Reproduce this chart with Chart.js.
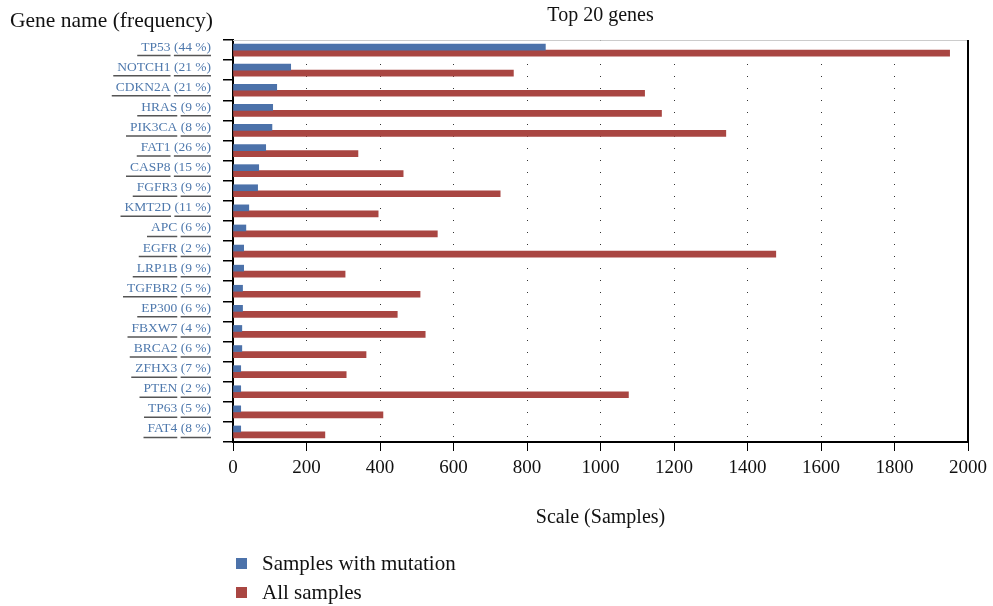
<!DOCTYPE html>
<html>
<head>
<meta charset="utf-8">
<script src="https://cdn.jsdelivr.net/npm/chart.js@4/dist/chart.umd.min.js"></script>
<style>
  html, body { margin: 0; padding: 0; background: #fff; }
  #wrap { position: relative; width: 993px; height: 606px; }
  #yhead { position: absolute; left: 10px; top: 8px; font: 21.5px "Liberation Serif", serif; color: #111; }
  #legend { position: absolute; left: 236px; top: 549px; font: 21px "Liberation Serif", serif; color: #111; }
  #legend div { height: 29px; display: flex; align-items: center; }
  #legend span.box { width: 11px; height: 11px; display: inline-block; margin-right: 15px; }
</style>
</head>
<body>
<div id="wrap">
  <canvas id="myChart" width="993" height="606"></canvas>
  <div id="yhead">Gene name (frequency)</div>
  <div id="legend"></div>
</div>
<script>
// genes and their frequency labels
const genes = ['TP53', 'NOTCH1', 'CDKN2A', 'HRAS', 'PIK3CA', 'FAT1', 'CASP8', 'FGFR3', 'KMT2D', 'APC',
  'EGFR', 'LRP1B', 'TGFBR2', 'EP300', 'FBXW7', 'BRCA2', 'ZFHX3', 'PTEN', 'TP63', 'FAT4'];
const frequencies = ['44 %', '21 %', '21 %', '9 %', '8 %', '26 %', '15 %', '9 %', '11 %', '6 %',
  '2 %', '9 %', '5 %', '6 %', '4 %', '6 %', '7 %', '2 %', '5 %', '8 %'];

// samples with mutation / all samples
const mutatedSamples = [850, 157, 119, 108, 106, 89, 70, 67, 43, 35, 29, 29, 26, 26, 24, 24, 21, 21, 21, 21];
const allSamples = [1950, 763, 1120, 1166, 1341, 340, 463, 727, 395, 556, 1477, 305, 509, 447, 523, 362, 308, 1076, 408, 250];

const xTicks = [0, 200, 400, 600, 800, 1000, 1200, 1400, 1600, 1800, 2000];

const labelFont = '13.5px "Liberation Serif", serif';
const serif = '"Liberation Serif", serif';

//underline each gene name and its frequency, like links
const underlinePlugin = {
  id: 'underline',
  afterDraw(chart) {
    const ctx = chart.ctx;
    const y = chart.scales.y;
    const opts = y.options.ticks;
    ctx.save();
    ctx.font = labelFont;
    ctx.strokeStyle = '#555';
    ctx.lineWidth = 1.5;
    const right = y.right - y.options.grid.tickLength - opts.padding;
    genes.forEach((g, i) => {
      const py = y.getPixelForValue(i) + opts.labelOffset + 8.5;
      const freqText = '(' + frequencies[i] + ')';
      const wFreq = ctx.measureText(freqText).width;
      const wName = ctx.measureText(g + ' ').width;
      const wSpace = ctx.measureText(' ').width;
      ctx.beginPath();
      ctx.moveTo(right - wFreq, py);
      ctx.lineTo(right, py);
      ctx.moveTo(right - wFreq - wName - 4, py);
      ctx.lineTo(right - wFreq - wSpace, py);
      ctx.stroke();
    });
    // box around the plot
    const a = chart.chartArea;
    ctx.strokeStyle = '#ccc';
    ctx.lineWidth = 1;
    ctx.beginPath();
    ctx.moveTo(a.left, a.top + 0.5);
    ctx.lineTo(a.right, a.top + 0.5);
    ctx.stroke();
    ctx.strokeStyle = '#000';
    ctx.lineWidth = 2;
    ctx.beginPath();
    ctx.moveTo(a.right, a.top);
    ctx.lineTo(a.right, a.bottom);
    ctx.stroke();
    ctx.restore();
  }
};

const data = {
  labels: genes.map((g, i) => g + ' (' + frequencies[i] + ')'),
  datasets: [{
    label: 'Samples with mutation',
    backgroundColor: '#4c72aa',
    data: mutatedSamples,
  }, {
    label: 'All samples',
    backgroundColor: '#a94642',
    data: allSamples,
  }]
};

const config = {
  type: 'bar',
  data: data,
  options: {
    indexAxis: 'y',
    responsive: false,
    animation: false,
    layout: { padding: { left: 0, right: 23, top: 0, bottom: 0 } },
    datasets: {
      bar: { barThickness: 6, categoryPercentage: 0.8, barPercentage: 1 }
    },
    scales: {
      x: {
        min: 0,
        max: 2000,
        afterBuildTicks: (scale) => { scale.ticks = xTicks.map(v => ({ value: v })); },
        afterFit: (scale) => { scale.height = 164; },
        border: { color: '#000', width: 2, dash: [1, 11] },
        grid: {
          color: '#333',
          lineWidth: 1,
          tickColor: '#000',
          tickLength: 9,
          tickBorderDash: []
        },
        ticks: {
          font: { family: serif, size: 19 },
          color: '#111',
          padding: 6,
          maxRotation: 0,
          callback: (v) => String(v)
        },
        title: {
          display: true,
          text: 'Scale (Samples)',
          font: { family: serif, size: 20 },
          color: '#111',
          padding: { top: 0, bottom: 76 }
        }
      },
      y: {
        afterFit: (scale) => { scale.width = 233; },
        border: { color: '#000', width: 2 },
        grid: {
          drawOnChartArea: false,
          tickColor: '#000',
          tickLength: 10,
          lineWidth: 1.5,
          offset: true
        },
        ticks: {
          font: { family: serif, size: 13.5 },
          color: '#4f79ad',
          padding: 12,
          labelOffset: -3,
          autoSkip: false
        }
      }
    },
    plugins: {
      legend: { display: false },
      tooltip: { enabled: false },
      title: {
        display: true,
        text: 'Top 20 genes',
        fullSize: false,
        font: { family: serif, size: 20, weight: 'normal' },
        color: '#111',
        padding: { top: 4, bottom: 12 }
      }
    }
  },
  plugins: [underlinePlugin]
};

const myChart = new Chart(document.getElementById('myChart'), config);

//legend as html, one entry per line
const legendBox = document.getElementById('legend');
myChart.data.datasets.forEach((ds) => {
  const row = document.createElement('div');
  const box = document.createElement('span');
  box.className = 'box';
  box.style.background = ds.backgroundColor;
  row.appendChild(box);
  row.appendChild(document.createTextNode(ds.label));
  legendBox.appendChild(row);
});
</script>
</body>
</html>
